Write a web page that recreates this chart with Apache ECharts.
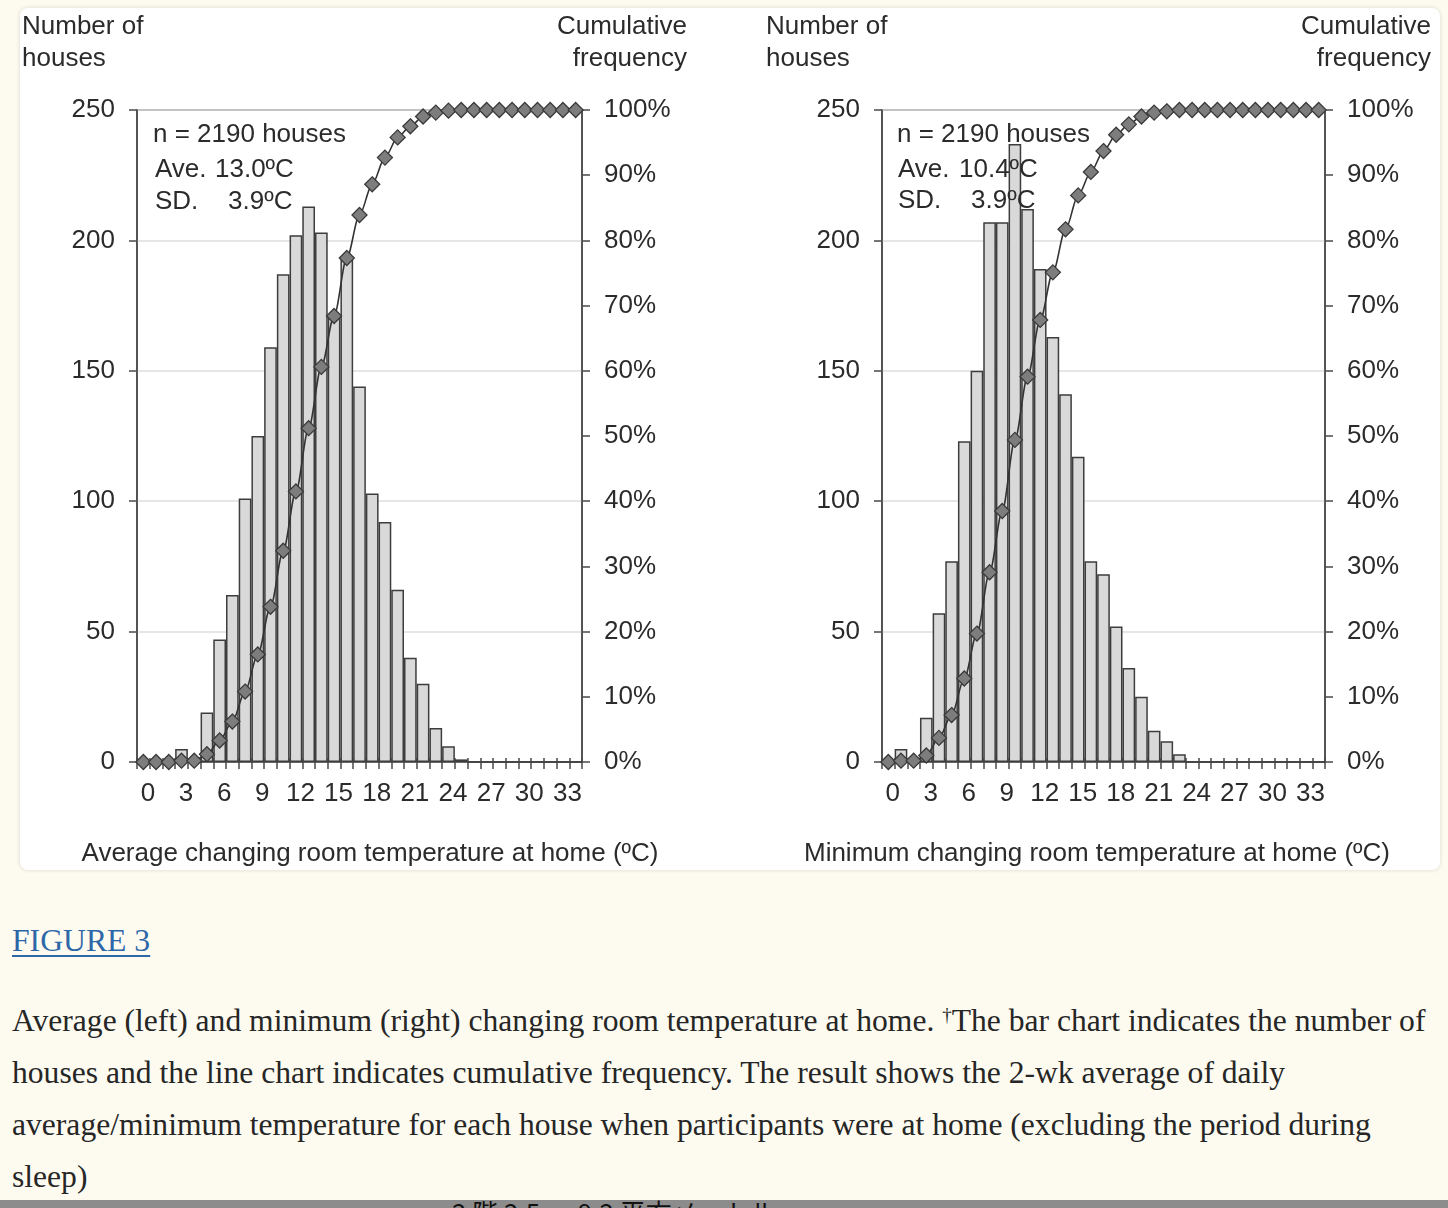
<!DOCTYPE html>
<html>
<head>
<meta charset="utf-8">
<script src="https://cdn.jsdelivr.net/npm/echarts@6/dist/echarts.min.js"></script>
<style>
html,body{margin:0;padding:0;background:#fdfbf0;width:1448px;height:1208px;overflow:hidden;}
#card{position:absolute;left:20px;top:8px;width:1420px;height:862px;background:#fff;border-radius:8px;box-shadow:0 0 4px rgba(0,0,0,0.14);}
#chart{position:absolute;left:0;top:0;width:1448px;height:880px;}
#fig{position:absolute;left:12px;top:922px;font-family:"Liberation Serif",serif;font-size:31.7px;line-height:38px;color:#2e67a8;text-decoration:underline;text-decoration-thickness:2px;text-underline-offset:4px;}
#cap{position:absolute;left:12px;top:995px;font-family:"Liberation Serif",serif;font-size:31.6px;line-height:52px;color:#262626;white-space:nowrap;}
#cap sup{font-size:19px;vertical-align:top;position:relative;top:-6px;}
#strip{position:absolute;left:0;top:1200px;width:1448px;height:8px;background:#8c8c8c;overflow:hidden;}
#strip span{position:absolute;left:452px;top:-1px;font-family:"Noto Sans CJK JP";font-size:26px;line-height:26px;color:#111;}
</style>
</head>
<body>
<div id="card"></div>
<div id="chart"></div>
<div id="fig">FIGURE 3</div>
<div id="cap">Average (left) and minimum (right) changing room temperature at home. <sup>†</sup>The bar chart indicates the number of<br>houses and the line chart indicates cumulative frequency. The result shows the 2-wk average of daily<br>average/minimum temperature for each house when participants were at home (excluding the period during<br>sleep)</div>
<div id="strip"><span>2 階 2.5 ～ 9.2 平方メートル</span></div>
<script>
// ---- data ----
const categories = ['0','1','2','3','4','5','6','7','8','9','10','11','12','13','14','15','16','17','18','19','20','21','22','23','24','25','26','27','28','29','30','31','32','33','34'];

// Left panel: average changing room temperature
const avgHouses = [0,0,0,5,0,19,47,64,101,125,159,187,202,213,203,171,194,144,103,92,66,40,30,13,6,1,0,0,0,0,0,0,0,0,0];
const avgCumulative = [0,0,0,0.2,0.2,1.2,3.3,6.2,10.8,16.5,23.8,32.4,41.5,51.2,60.6,68.4,77.3,83.9,88.6,92.7,95.8,97.5,99.0,99.6,99.9,100,100,100,100,100,100,100,100,100,100];

// Right panel: minimum changing room temperature
const minHouses = [0,5,0,17,57,77,123,150,207,207,237,212,189,163,141,117,77,72,52,36,25,12,8,3,0,0,0,0,0,0,0,0,0,0,0];
const minCumulative = [0,0.2,0.2,1.0,3.7,7.2,12.8,19.7,29.1,38.5,49.4,59.1,67.8,75.1,81.7,86.9,90.5,93.7,96.2,97.8,99.0,99.6,99.8,100,100,100,100,100,100,100,100,100,100,100,100];

const countAxis = {min:0, max:250, interval:50};
const percentAxis = {min:0, max:100, interval:10};

const leftNotes = ['n = 2190 houses', 'Ave.', '13.0ºC', 'SD.', '3.9ºC'];
const rightNotes = ['n = 2190 houses', 'Ave.', '10.4ºC', 'SD.', '3.9ºC'];
const xTitles = ['Average changing room temperature at home (ºC)', 'Minimum changing room temperature at home (ºC)'];
const yTitles = [['Number of','houses'], ['Cumulative','frequency']];

// ---- styles ----
const FONT = '"Liberation Sans", Arial, sans-serif';
const TXT = '#2b2b2b';
const AX = '#4a4a4a';

const chart = echarts.init(document.getElementById('chart'), null, {renderer:'canvas'});

const grids = [
  {left:137, top:110, width:445, height:652},
  {left:882, top:110, width:443, height:652}
];

function xAxes(gi){
  return [
    {type:'category', gridIndex:gi, data:categories, boundaryGap:true, position:'bottom',
     axisLine:{show:true, lineStyle:{color:AX, width:1.5}},
     axisTick:{show:true, interval:0, length:7, lineStyle:{color:AX, width:1.5}},
     axisLabel:{interval:2, fontSize:26, fontFamily:FONT, color:TXT, margin:19, padding:[0,0,0,9]},
     splitLine:{show:false}},
    {type:'category', gridIndex:gi, data:categories, boundaryGap:true, position:'bottom',
     axisLine:{show:false},
     axisTick:{show:true, inside:true, interval:0, length:4, lineStyle:{color:AX, width:1.5}},
     axisLabel:{show:false}, splitLine:{show:false}}
  ];
}
function yAxes(gi){
  return [
    {type:'value', gridIndex:gi, position:'left', min:countAxis.min, max:countAxis.max, interval:countAxis.interval,
     axisLine:{show:true, lineStyle:{color:AX, width:1.5}},
     axisTick:{show:true, length:8, lineStyle:{color:AX, width:1.5}},
     axisLabel:{fontSize:26, fontFamily:FONT, color:TXT, margin:22, padding:[4,0,0,0]},
     splitLine:{show:true, lineStyle:{color:'#dedede', width:1.5}}},
    {type:'value', gridIndex:gi, position:'right', min:percentAxis.min, max:percentAxis.max, interval:percentAxis.interval,
     axisLine:{show:true, lineStyle:{color:AX, width:1.5}},
     axisTick:{show:true, length:8, lineStyle:{color:AX, width:1.5}},
     axisLabel:{fontSize:26, fontFamily:FONT, color:TXT, margin:22, padding:[4,0,0,0], formatter:'{value}%'},
     splitLine:{show:false}}
  ];
}
function barSeries(xi, yi, data){
  return {type:'bar', xAxisIndex:xi, yAxisIndex:yi, data:data, barCategoryGap:'0%', barGap:'0%',
    itemStyle:{color:'#d9d9d9', borderColor:'#3d3d3d', borderWidth:1.5},
    emphasis:{disabled:true}, silent:true, z:2};
}
function lineSeries(xi, yi, data){
  return {type:'line', xAxisIndex:xi, yAxisIndex:yi, data:data, smooth:0.3, smoothMonotone:'x',
    symbol:'diamond', symbolSize:15, showAllSymbol:true,
    lineStyle:{color:'#333', width:1.6},
    itemStyle:{color:'#7d7d7d', borderColor:'#3a3a3a', borderWidth:1.3},
    emphasis:{disabled:true}, silent:true, z:3};
}
function txt(text, x, y, align){
  return {type:'text', silent:true, z:100, style:{text:text, x:x, y:y + 2, fill:TXT, font:'26px ' + FONT, textAlign:align||'left', textVerticalAlign:'middle'}};
}

const graphics = [
  txt(yTitles[0][0], 22, 25), txt(yTitles[0][1], 22, 57),
  txt(yTitles[1][0], 687, 25, 'right'), txt(yTitles[1][1], 687, 57, 'right'),
  txt(yTitles[0][0], 766, 25), txt(yTitles[0][1], 766, 57),
  txt(yTitles[1][0], 1431, 25, 'right'), txt(yTitles[1][1], 1431, 57, 'right'),
  txt(leftNotes[0], 153, 133), txt(leftNotes[1], 155, 168), txt(leftNotes[2], 215, 168), txt(leftNotes[3], 155, 200), txt(leftNotes[4], 228, 200),
  txt(rightNotes[0], 897, 133), txt(rightNotes[1], 898, 168), txt(rightNotes[2], 959, 168), txt(rightNotes[3], 898, 199), txt(rightNotes[4], 971, 199),
  txt(xTitles[0], 370, 852, 'center'), txt(xTitles[1], 1097, 852, 'center')
];

chart.setOption({
  animation:false,
  backgroundColor:'transparent',
  grid: grids.map(g => Object.assign({containLabel:false, show:true, borderColor:AX, borderWidth:1.5, backgroundColor:'transparent'}, g)),
  xAxis: xAxes(0).concat(xAxes(1)),
  yAxis: yAxes(0).concat(yAxes(1)),
  series: [
    barSeries(0, 0, avgHouses),
    lineSeries(0, 1, avgCumulative),
    barSeries(2, 2, minHouses),
    lineSeries(2, 3, minCumulative)
  ],
  graphic: graphics
});
</script>
</body>
</html>
